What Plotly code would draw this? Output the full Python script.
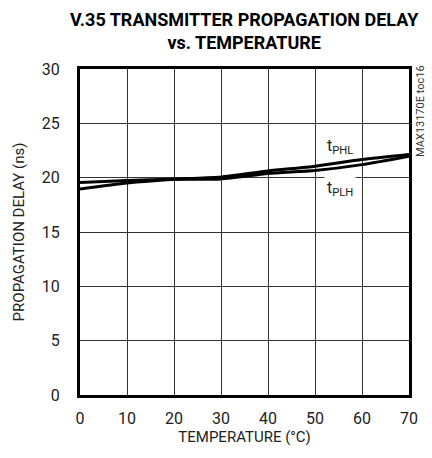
import plotly.graph_objects as go

temps = [0, 10, 20, 30, 40, 50, 60, 70]
t_phl = [18.95, 19.5, 19.85, 20.07, 20.62, 21.06, 21.67, 22.13]
t_plh = [19.56, 19.75, 19.85, 19.88, 20.38, 20.66, 21.2, 21.98]
x_ticks = [0, 10, 20, 30, 40, 50, 60, 70]
y_ticks = [0, 5, 10, 15, 20, 25, 30]

FONT = "Roboto, Liberation Sans, Arial, sans-serif"

fig = go.Figure()
for ys in (t_phl, t_plh):
    fig.add_trace(go.Scatter(x=temps, y=ys, mode="lines",
                             line=dict(color="black", width=3, shape="spline", smoothing=0.6),
                             showlegend=False, hoverinfo="skip"))

fig.add_annotation(x=55.3, y=22.9, text="t<sub>PHL</sub>", showarrow=False,
                   font=dict(family=FONT, size=16, color="#222"))
fig.add_annotation(x=55.3, y=19.0, text="t<sub>PLH</sub>", showarrow=False,
                   font=dict(family=FONT, size=16, color="#222"), bgcolor="white", borderpad=2)
fig.add_annotation(xref="paper", yref="paper", x=1.033, y=1.018, xanchor="center", yanchor="top",
                   text="MAX13170E toc16", textangle=-90, showarrow=False,
                   font=dict(family=FONT, size=11, color="#333"))
fig.add_annotation(xref="paper", yref="paper", x=0.5, y=1.117, xanchor="center", yanchor="middle",
                   text="<b>V.35 TRANSMITTER PROPAGATION DELAY<br>vs. TEMPERATURE</b>",
                   showarrow=False, font=dict(family=FONT, size=18, color="black"))

fig.update_layout(
    width=432, height=458,
    margin=dict(l=80, r=23, t=69, b=63),
    paper_bgcolor="white", plot_bgcolor="white",
    font=dict(family=FONT, size=16, color="#222"),
)
fig.update_xaxes(range=[0, 70], tickvals=x_ticks, showgrid=True, gridcolor="#333", gridwidth=1,
                 showline=True, linecolor="black", linewidth=3, mirror=True, zeroline=False,
                 ticks="", ticklabelstandoff=7,
                 title=dict(text="TEMPERATURE (°C)", font=dict(size=15), standoff=5))
fig.update_yaxes(range=[0, 30], tickvals=y_ticks, showgrid=True, gridcolor="#333", gridwidth=1,
                 showline=True, linecolor="black", linewidth=3, mirror=True, zeroline=False,
                 ticks="", ticklabelstandoff=14,
                 title=dict(text="PROPAGATION DELAY (ns)", font=dict(size=15), standoff=14))

fig.write_html("out.html", config={"displayModeBar": False},
               post_script="document.body.style.margin='0';")
